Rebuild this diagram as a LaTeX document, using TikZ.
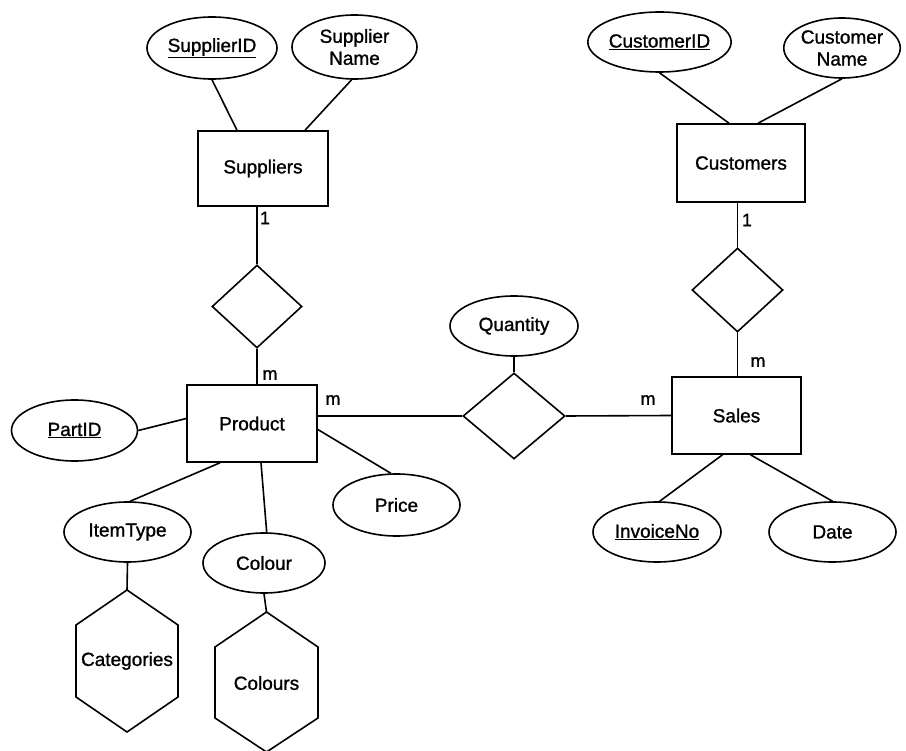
\documentclass[tikz,border=0pt]{standalone}
\usepackage{fontspec}
\setmainfont{Liberation Sans}[BoldFont={Liberation Sans},BoldFeatures={FakeBold=1.2}]
\usetikzlibrary{shapes.geometric,calc}

\begin{document}
\begin{tikzpicture}[x=1pt,y=-1pt,line width=1.6pt,
  every node/.style={font=\fontsize{19}{22}\selectfont\bfseries},
  entity/.style={draw,rectangle,inner sep=0pt},
  attr/.style={draw,ellipse,inner sep=0pt,align=center},
  rel/.style={draw,diamond,inner sep=0pt},
  card/.style={inner sep=0pt,font=\fontsize{18}{20}\selectfont\bfseries},
  lbl/.style={inner sep=0pt}]
\useasboundingbox (0,0) rectangle (906,751);

% entities
\node[entity,minimum width=130pt,minimum height=75pt] (sup)  at (263,168.5) {Suppliers};
\node[entity,minimum width=128pt,minimum height=78pt] (cust) at (741,163) {Customers};
\node[entity,minimum width=130pt,minimum height=77pt] (prod) at (252,423.5) {Product};
\node[entity,minimum width=129pt,minimum height=77pt] (sales) at (736.5,415.5) {Sales};

% relationships
\node[rel,minimum width=90pt,minimum height=83pt]  (rsp) at (257,306.5) {};
\node[rel,minimum width=91pt,minimum height=84pt]  (rcs) at (737.5,290) {};
\node[rel,minimum width=102pt,minimum height=86pt] (rps) at (514,416) {};

% attributes
\node[attr,minimum width=130pt,minimum height=62pt] (sid)   at (212,48) {\underline{SupplierID}};
\node[attr,minimum width=125pt,minimum height=64pt] (sname) at (354.5,47) {Supplier\\Name};
\node[attr,minimum width=127pt,minimum height=60pt] (cid)   at (659.5,42) {\underline{CustomerID}};
\node[attr,minimum width=110pt,minimum height=60pt] (cname) at (842,48) {Customer\\Name};
\node[attr,minimum width=126pt,minimum height=61pt] (pid)   at (74.5,430.5) {\underline{PartID}};
\node[attr,minimum width=128pt,minimum height=60pt] (qty)   at (514,326) {Quantity};
\node[attr,minimum width=127pt,minimum height=62pt] (price) at (396.5,505) {Price};
\node[attr,minimum width=127pt,minimum height=60pt] (itype) at (127.5,532) {ItemType};
\node[attr,minimum width=122pt,minimum height=60pt] (col)   at (264,563) {Colour};
\node[attr,minimum width=128pt,minimum height=60pt] (inv)   at (657,532) {\underline{InvoiceNo}};
\node[attr,minimum width=127pt,minimum height=60pt] (date)  at (832.5,532) {Date};

% lookup tables drawn as tall hexagons
\coordinate (cattop) at (127,590);
\draw (cattop) -- (178,625) -- (178,697) -- (127,732) -- (76,697) -- (76,625) -- cycle;
\node[lbl] (cat) at (127,661) {Categories};
\coordinate (colstop) at (266.5,612);
\draw (colstop) -- (318,647) -- (318,718) -- (266.5,752) -- (215,718) -- (215,647) -- cycle;
\node[lbl] (cols) at (266.5,683) {Colours};

% attribute links
\draw (sid.south) -- ([xshift=-26pt]sup.north);
\draw (sname.265) -- ([xshift=42pt]sup.north);
\draw (cid.south) -- ([xshift=-12pt]cust.north);
\draw (cname.south) -- ([xshift=17pt]cust.north);
\draw (pid.east) -- ([yshift=5pt]prod.west);
\draw ([yshift=-6pt]prod.east) -- (price.100);
\draw ([xshift=-32pt]prod.south) -- (itype.85);
\draw ([xshift=9pt]prod.south) -- (col.85);
\draw (qty.south) -- (rps.north);
\draw ([xshift=-14pt]sales.south) -- (inv.85);
\draw ([xshift=14pt]sales.south) -- (date.north);
\draw (itype.south) -- (cattop);
\draw (col.south) -- (colstop);

% relationship links
\draw ([xshift=-6pt]sup.south) -- (rsp.north);
\draw (rsp.south) -- ([xshift=5pt]prod.north);
\draw ([xshift=-3.5pt]cust.south) -- (rcs.north);
\draw (rcs.south) -- ([xshift=1pt]sales.north);
\draw ([yshift=7.5pt]prod.east) -- (rps.west);
\draw (rps.east) -- (sales.west);

% cardinalities
\node[card] at (265,218) {1};
\node[card] at (270,375) {m};
\node[card] at (333,400) {m};
\node[card] at (648,400) {m};
\node[card] at (747,220) {1};
\node[card] at (758,362) {m};
\end{tikzpicture}
\end{document}
